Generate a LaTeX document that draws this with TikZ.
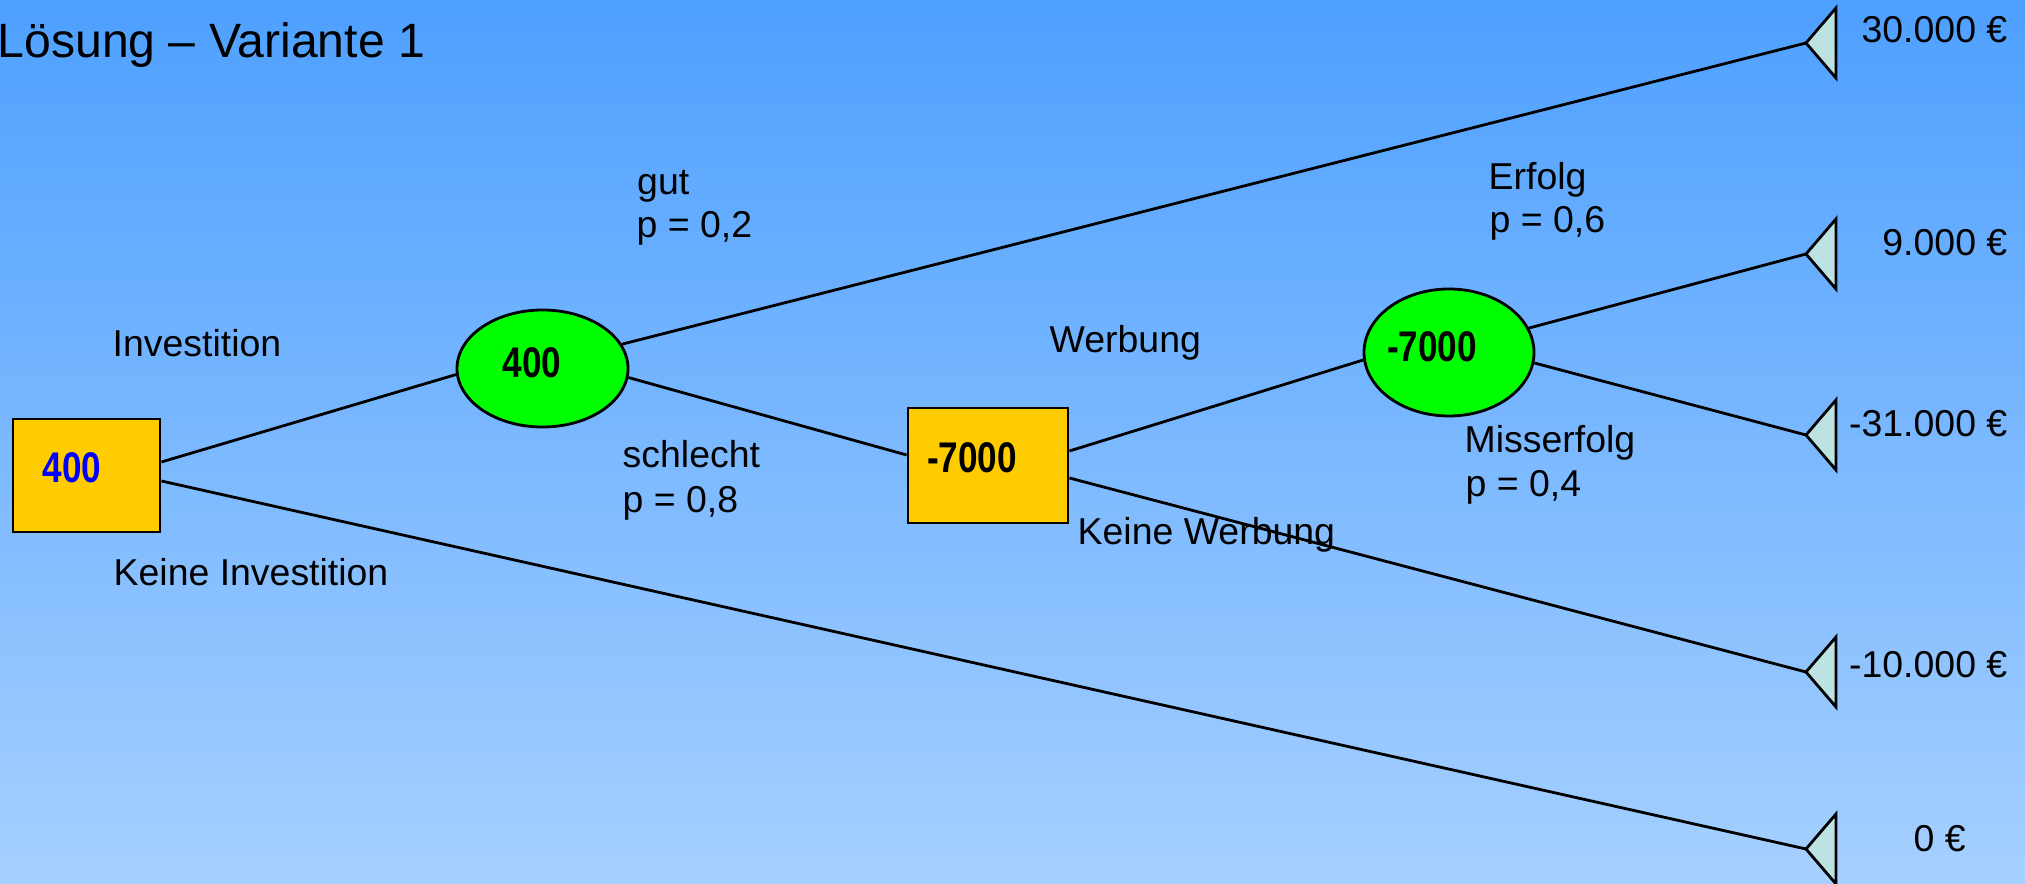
\documentclass[tikz,border=0pt]{standalone}
\usepackage{fontspec}
\setmainfont{Liberation Sans}
\newfontfamily\schmal[FakeStretch=0.82]{Liberation Sans}
\usepackage{tikz}
\usetikzlibrary{
	positioning,
	shapes.geometric
}

\definecolor{himmeloben}{RGB}{78,160,255}
\definecolor{himmelunten}{RGB}{166,208,255}
\definecolor{kastengelb}{RGB}{255,204,0}
\definecolor{zufallgruen}{RGB}{0,255,0}
\definecolor{endtuerkis}{RGB}{188,226,226}

\begin{document}
\begin{tikzpicture}[
			font=\fontsize{10.65}{12.6}\selectfont,
			entsch/.style={draw, line width=0.8pt, fill=kastengelb, rectangle, inner sep=0pt},
			zufall/.style={draw, line width=0.8pt, fill=zufallgruen, ellipse, inner sep=0pt},
			wert/.style={font=\fontsize{12.2}{14}\selectfont\schmal\bfseries, inner sep=0pt},
			txt/.style={inner sep=0pt, anchor=base west},
			betrag/.style={inner sep=0pt, anchor=base east},
			ast/.style={line width=0.8pt},
			ende/.style={draw, line width=0.8pt, fill=endtuerkis, line join=miter}
		]

		% Hintergrund
		\shade[top color=himmeloben, bottom color=himmelunten] (0,0) rectangle (20.25,-8.84);
		\useasboundingbox (0,0) rectangle (20.25,-8.84);

		\node[txt, font=\fontsize{13.7}{16}\selectfont] (titel) at (-0.03,-0.575) {Lösung – Variante 1};

		% Knoten
		\node[entsch, minimum width=1.47cm, minimum height=1.13cm] (inv) at (0.865,-4.755) {};
		\node[wert, text=blue] (inv-wert) at (0.72,-4.68) {400};
		\node[zufall, minimum width=1.71cm, minimum height=1.17cm] (markt) at (5.425,-3.685) {};
		\node[wert] (markt-wert) at (5.32,-3.63) {400};
		\node[entsch, minimum width=1.60cm, minimum height=1.15cm] (werb) at (9.88,-4.655) {};
		\node[wert] (werb-wert) at (9.72,-4.58) {-7000};
		\node[zufall, minimum width=1.70cm, minimum height=1.27cm] (erf) at (14.49,-3.525) {};
		\node[wert] (erf-wert) at (14.32,-3.47) {-7000};

		% Endpunkte
		\coordinate (e1) at (18.06,-0.43);
		\coordinate (e2) at (18.06,-2.54);
		\coordinate (e3) at (18.06,-4.35);
		\coordinate (e4) at (18.06,-6.72);
		\coordinate (e5) at (18.06,-8.49);

		% Beschriftungen
		\node[txt] (l-inv) at (1.12,-3.57) {Investition};
		\node[txt] (l-keineinv) at (1.13,-5.86) {Keine Investition};
		\node[txt] (l-gut) at (6.365,-1.95) {gut};
		\node[txt] (l-gut-p) at (6.36,-2.38) {p = 0,2};
		\node[txt] (l-schlecht) at (6.22,-4.68) {schlecht};
		\node[txt] (l-schlecht-p) at (6.22,-5.13) {p = 0,8};
		\node[txt] (l-werb) at (10.49,-3.53) {Werbung};
		\node[txt] (l-keinewerb) at (10.77,-5.45) {Keine Werbung};
		\node[txt] (l-erf) at (14.88,-1.90) {Erfolg};
		\node[txt] (l-erf-p) at (14.89,-2.33) {p = 0,6};
		\node[txt] (l-miss) at (14.64,-4.53) {Misserfolg};
		\node[txt] (l-miss-p) at (14.65,-4.97) {p = 0,4};

		\node[betrag] (b1) at (20.08,-0.43) {30.000 €};
		\node[betrag] (b2) at (20.08,-2.56) {9.000 €};
		\node[betrag] (b3) at (20.08,-4.37) {-31.000 €};
		\node[betrag] (b4) at (20.08,-6.78) {-10.000 €};
		\node[txt] (b5) at (19.13,-8.52) {0 €};

		% Aeste
		\draw[ast] ([yshift=1.35mm]inv.east) -- (markt.184);
		\draw[ast] ([yshift=-0.55mm]inv.east) -- (e5);
		\draw[ast] (markt.17) -- (e1);
		\draw[ast] (markt.-6) -- ([yshift=1.05mm]werb.west);
		\draw[ast] ([yshift=1.45mm]werb.east) -- (erf.185);
		\draw[ast] ([yshift=-1.25mm]werb.east) -- (e4);
		\draw[ast] (erf.17) -- (e2);
		\draw[ast] (erf.-7) -- (e3);

		% Dreiecke
		\foreach \e in {e1,e2,e3,e4,e5}
			\draw[ende] (\e) -- ++(0.30,0.35) -- ++(0,-0.70) -- cycle;
	\end{tikzpicture}
\end{document}
